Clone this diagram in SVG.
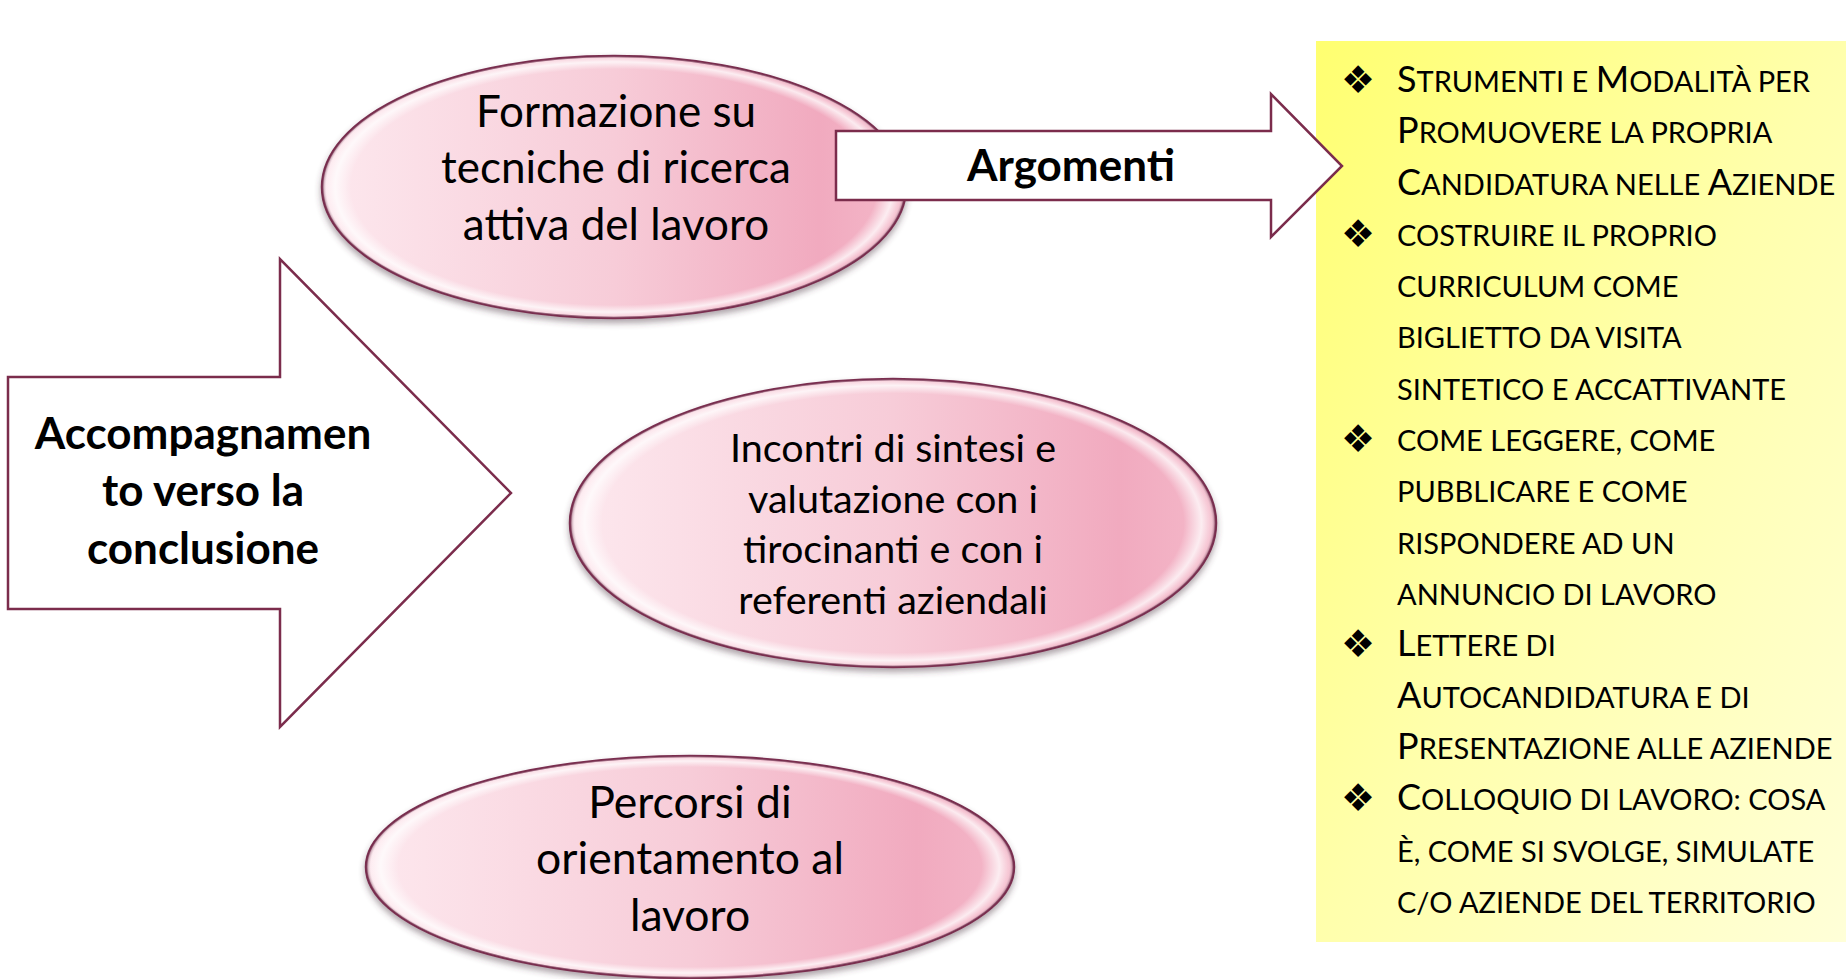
<svg xmlns="http://www.w3.org/2000/svg" width="1846" height="979" viewBox="0 0 1846 979">
<style>
.node-text{font-family:Lato,"Open Sans","Liberation Sans",sans-serif;fill:#000;text-anchor:middle}
.bold{font-weight:bold}
.list{font-family:Lato,"Open Sans","Liberation Sans",sans-serif;fill:#000;font-size:29px}
.big{font-size:36px}
.bul{font-family:"DejaVu Sans",sans-serif;font-size:38px;fill:#000;text-anchor:middle}
.arrow{fill:#fff;stroke:#7b2c4c;stroke-width:2.5;stroke-linejoin:miter}
.ell{fill:url(#pink);stroke:#7a2f50;stroke-width:2.5}
.bevel{fill:url(#rim);stroke:none}
</style>
<defs>
<linearGradient id="pink" x1="0" y1="0" x2="1" y2="0">
<stop offset="0" stop-color="#fde8ee"/>
<stop offset="0.5" stop-color="#f7ccd8"/>
<stop offset="0.85" stop-color="#f1aabf"/>
<stop offset="1" stop-color="#f4b8c9"/>
</linearGradient>
<radialGradient id="rim" cx="0.5" cy="0.5" r="0.5">
<stop offset="0.9" stop-color="#fff" stop-opacity="0"/>
<stop offset="0.955" stop-color="#fff" stop-opacity="0.75"/>
<stop offset="0.985" stop-color="#fff" stop-opacity="0.2"/>
<stop offset="1" stop-color="#6e2444" stop-opacity="0.8"/>
</radialGradient>
<linearGradient id="yellow" x1="0" y1="0" x2="1" y2="1">
<stop offset="0" stop-color="#ffff70"/>
<stop offset="0.5" stop-color="#ffffac"/>
<stop offset="1" stop-color="#ffffd8"/>
</linearGradient>
<filter id="shadow" x="-10%" y="-10%" width="120%" height="130%">
<feDropShadow dx="0" dy="4" stdDeviation="3" flood-color="#4a3040" flood-opacity="0.45"/>
</filter>
</defs>
<rect width="1846" height="979" fill="#fff"/>

<g id="box-argomenti">
<rect x="1316" y="41" width="530" height="901" fill="url(#yellow)"/>
<text class="bul" x="1358" y="93">❖</text>
<text class="bul" x="1358" y="247">❖</text>
<text class="bul" x="1358" y="452">❖</text>
<text class="bul" x="1358" y="657">❖</text>
<text class="bul" x="1358" y="811">❖</text>
<text class="list" x="1397" y="92"><tspan class="big">S</tspan>TRUMENTI E <tspan class="big">M</tspan>ODALITÀ PER</text>
<text class="list" x="1397" y="143"><tspan class="big">P</tspan>ROMUOVERE LA PROPRIA</text>
<text class="list" x="1397" y="195"><tspan class="big">C</tspan>ANDIDATURA NELLE <tspan class="big">A</tspan>ZIENDE</text>
<text class="list" x="1397" y="246">COSTRUIRE IL PROPRIO</text>
<text class="list" x="1397" y="297">CURRICULUM COME</text>
<text class="list" x="1397" y="348">BIGLIETTO DA VISITA</text>
<text class="list" x="1397" y="400">SINTETICO E ACCATTIVANTE</text>
<text class="list" x="1397" y="451">COME LEGGERE, COME</text>
<text class="list" x="1397" y="502">PUBBLICARE E COME</text>
<text class="list" x="1397" y="554">RISPONDERE AD UN</text>
<text class="list" x="1397" y="605">ANNUNCIO DI LAVORO</text>
<text class="list" x="1397" y="656"><tspan class="big">L</tspan>ETTERE DI</text>
<text class="list" x="1397" y="708"><tspan class="big">A</tspan>UTOCANDIDATURA E DI</text>
<text class="list" x="1397" y="759"><tspan class="big">P</tspan>RESENTAZIONE ALLE AZIENDE</text>
<text class="list" x="1397" y="810"><tspan class="big">C</tspan>OLLOQUIO DI LAVORO: COSA</text>
<text class="list" x="1397" y="862">È, COME SI SVOLGE, SIMULATE</text>
<text class="list" x="1397" y="913">C/O AZIENDE DEL TERRITORIO</text>
</g>

<g id="node-formazione" filter="url(#shadow)">
<ellipse class="ell" cx="614" cy="187" rx="292" ry="131"/>
<ellipse class="bevel" cx="614" cy="187" rx="292" ry="131"/>
</g>
<g id="node-formazione-label">
<text class="node-text" font-size="44" x="616" y="127">Formazione su</text>
<text class="node-text" font-size="44" x="616" y="183">tecniche di ricerca</text>
<text class="node-text" font-size="44" x="616" y="240">attiva del lavoro</text>
</g>

<g id="node-incontri" filter="url(#shadow)">
<ellipse class="ell" cx="893" cy="523" rx="323" ry="144"/>
<ellipse class="bevel" cx="893" cy="523" rx="323" ry="144"/>
</g>
<g id="node-incontri-label">
<text class="node-text" font-size="39.5" x="893" y="462">Incontri di sintesi e</text>
<text class="node-text" font-size="39.5" x="893" y="513">valutazione con i</text>
<text class="node-text" font-size="39.5" x="893" y="563">tirocinanti e con i</text>
<text class="node-text" font-size="39.5" x="893" y="614">referenti aziendali</text>
</g>

<g id="node-percorsi" filter="url(#shadow)">
<ellipse class="ell" cx="690" cy="867" rx="324" ry="111"/>
<ellipse class="bevel" cx="690" cy="867" rx="324" ry="111"/>
</g>
<g id="node-percorsi-label">
<text class="node-text" font-size="44.5" x="690" y="818">Percorsi di</text>
<text class="node-text" font-size="44.5" x="690" y="874">orientamento al</text>
<text class="node-text" font-size="44.5" x="690" y="931">lavoro</text>
</g>

<g id="connectors">
<g id="arrow-accompagnamento">
<polygon class="arrow" points="8,377 280,377 280,259 511,493 280,727 280,609 8,609"/>
<text class="node-text bold" font-size="44" x="203" y="449">Accompagnamen</text>
<text class="node-text bold" font-size="44" x="203" y="506">to verso la</text>
<text class="node-text bold" font-size="44" x="203" y="564">conclusione</text>
</g>
<g id="arrow-argomenti">
<polygon class="arrow" points="836,131 1271,131 1271,94 1342,166 1271,237 1271,200 836,200"/>
<text class="node-text bold" font-size="44" x="1071" y="181">Argomenti</text>
</g>
</g>
</svg>
